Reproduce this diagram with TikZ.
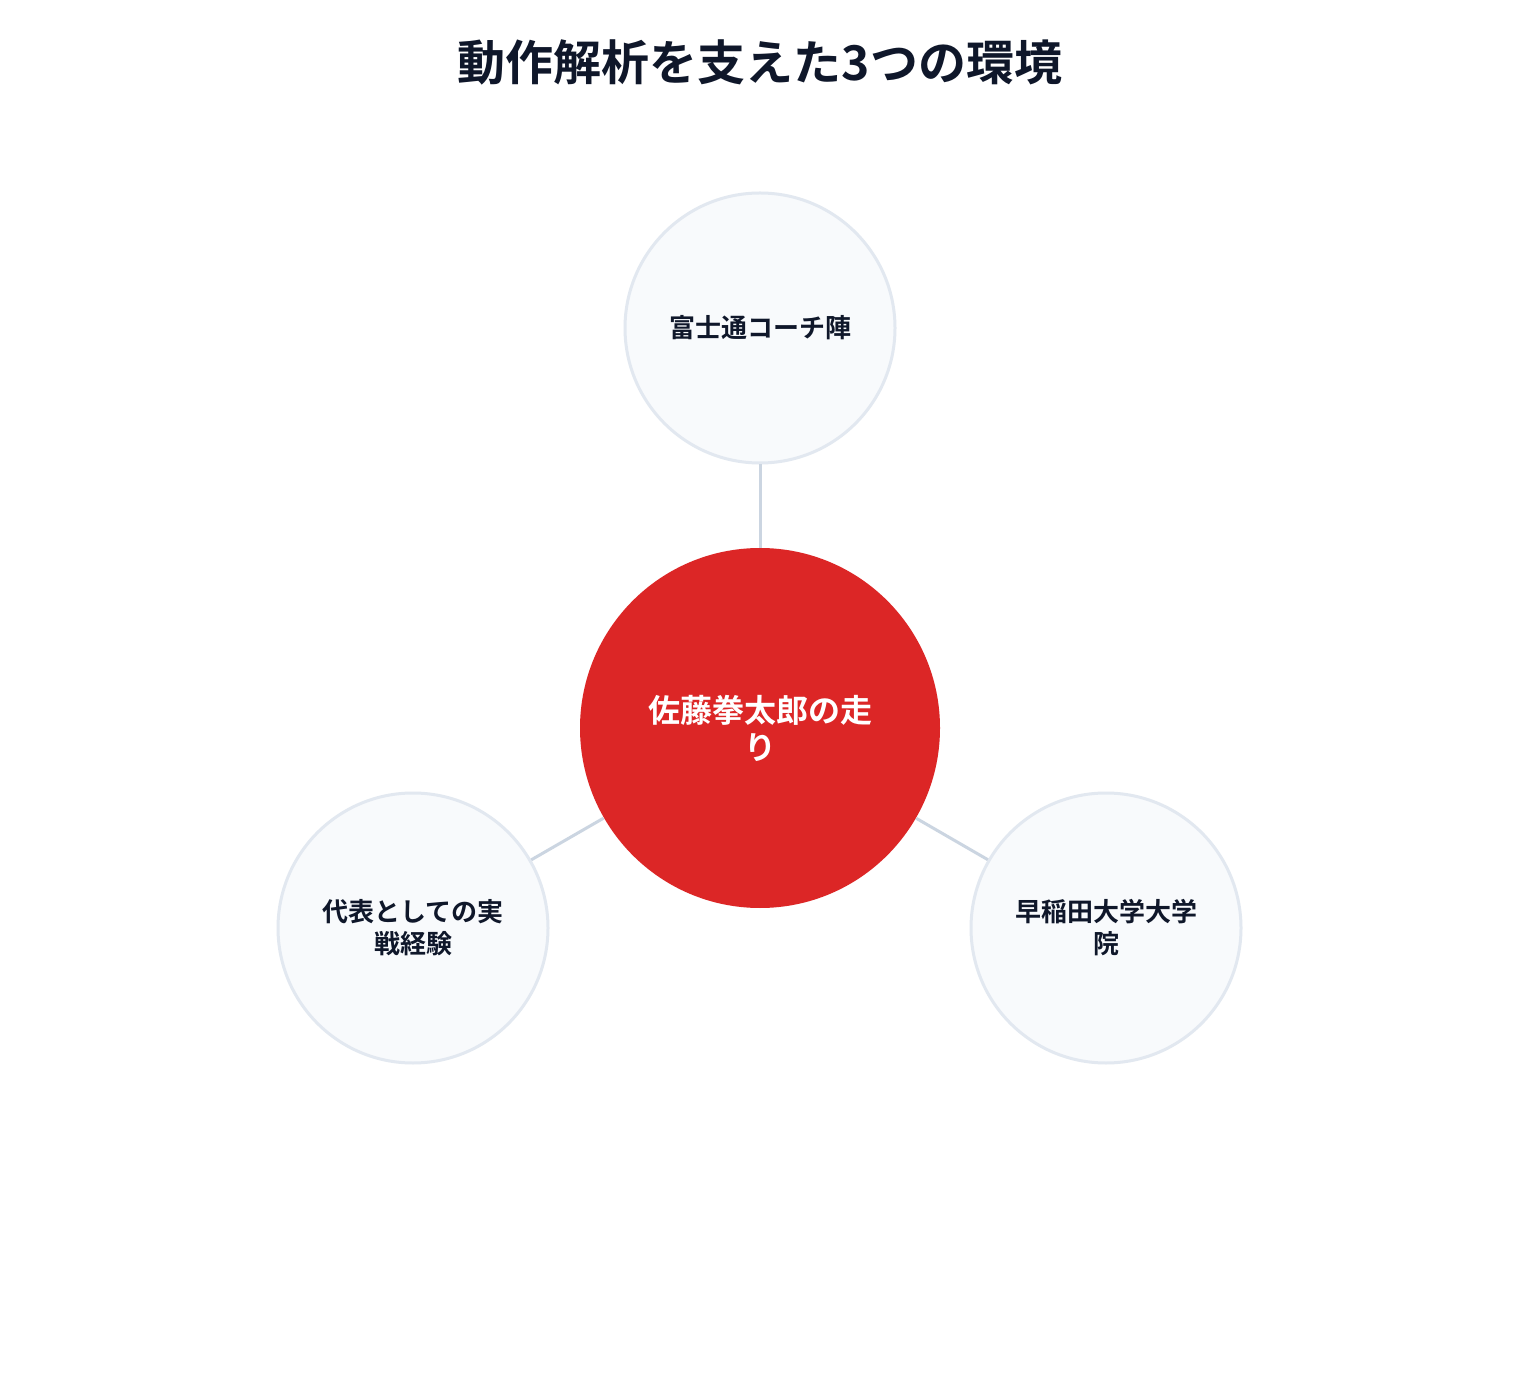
\documentclass[tikz,border=0pt]{standalone}
\usepackage{fontspec}
\setmainfont{Noto Sans CJK JP}[BoldFont={* Bold}]
\definecolor{runred}{HTML}{DC2626}
\definecolor{envfill}{HTML}{F8FAFC}
\definecolor{envline}{HTML}{E2E8F0}
\definecolor{linkline}{HTML}{CBD5E1}
\definecolor{inkdark}{HTML}{0F172A}
\begin{document}
\begin{tikzpicture}[x=0.5pt,y=-0.5pt,
  env/.style={circle,draw=envline,line width=1.5pt,fill=envfill,minimum size=135pt,inner sep=0pt,
    align=center,text=inkdark,font=\fontsize{13}{16}\selectfont\bfseries},
  core/.style={circle,fill=runred,minimum size=180pt,inner sep=0pt,
    align=center,text=white,font=\fontsize{16}{18.5}\selectfont\bfseries},
  link/.style={draw=linkline,line width=1.5pt}]
\useasboundingbox[fill=white] (0,0) rectangle (1520,1400);
\node[text=inkdark,font=\fontsize{24}{28}\selectfont\bfseries] (title) at (760,62) {動作解析を支えた3つの環境};

\node[core] (c) at (760,728) {佐藤拳太郎の走\\り};
\node[env] (e1) at (760,328) {富士通コーチ陣};
\node[env] (e2) at (413,928) {代表としての実\\戦経験};
\node[env] (e3) at (1106,928) {早稲田大学大学\\院};
\draw[link] (c) edge (e1);
\draw[link] (c) edge (e2);
\draw[link] (c) edge (e3);
\end{tikzpicture}
\end{document}
